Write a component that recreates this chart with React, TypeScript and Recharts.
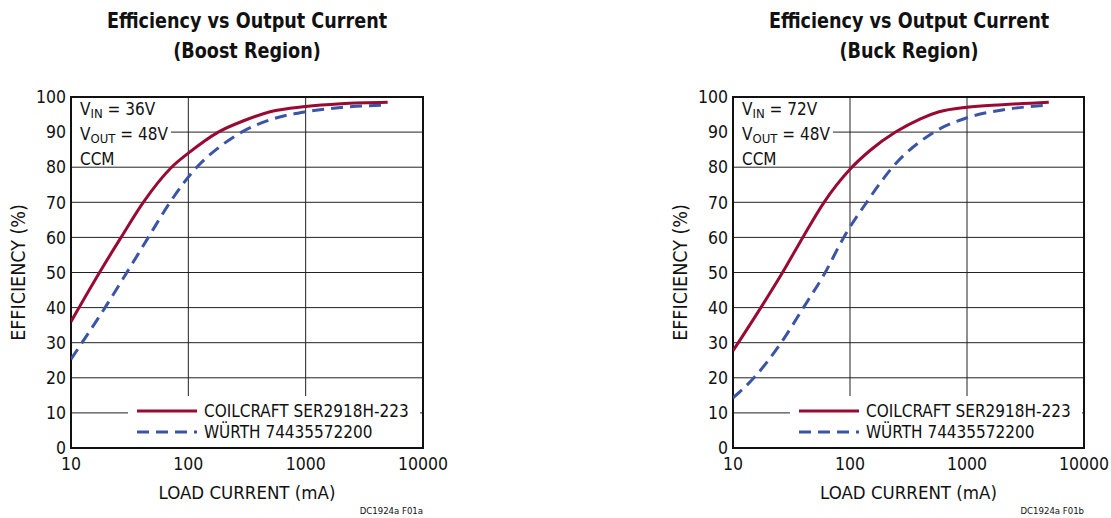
import * as React from 'react';
import {
  CartesianGrid,
  Label,
  Legend,
  Line,
  LineChart,
  ReferenceArea,
  XAxis,
  YAxis,
} from 'recharts';

// boost region (VIN = 36V)
const boostCoilcraftCurrent = [10, 17.5, 26.7, 41.3, 72, 100, 180, 300, 498, 1000, 2000, 5000];
const boostCoilcraftEff = [36, 50, 60, 70, 80, 84, 90, 93.3, 95.8, 97.3, 98.1, 98.5];
const boostWurthCurrent = [10, 19.5, 29.9, 45.6, 69.8, 118, 180, 285, 498, 1000, 2000, 5000];
const boostWurthEff = [25.3, 40, 50, 60, 70, 80, 85.5, 90, 93.5, 95.8, 97, 97.7];

// buck region (VIN = 72V)
const buckCoilcraftCurrent = [10, 17.3, 26.5, 39.5, 60, 100, 150, 245, 400, 578, 1000, 2000, 5000];
const buckCoilcraftEff = [27.7, 40, 50, 60, 70, 79.4, 84.9, 90, 93.8, 95.8, 97.1, 97.8, 98.5];
const buckWurthCurrent = [10, 15.1, 25.8, 40, 61.4, 88.4, 138.8, 231, 524, 1000, 2000, 5000];
const buckWurthEff = [14.3, 20, 30, 40, 50, 60, 70, 80, 90, 94.1, 96.3, 97.7];

const xTicks = [10, 100, 1000, 10000];
const yTicks = [0, 10, 20, 30, 40, 50, 60, 70, 80, 90, 100];
const seriesNames = ['COILCRAFT SER2918H-223', 'WÜRTH 74435572200'];

const RED = '#990a33';
const BLUE = '#3b54a6';
const FONT = "'Liberation Sans Narrow', 'DejaVu Sans Condensed', 'Roboto Condensed', Roboto, sans-serif";

const toPoints = (current: number[], eff: number[]) =>
  current.map((i, k) => ({ i, eff: eff[k] }));

function LegendBox() {
  const rows = [
    { name: seriesNames[0], color: RED, dash: undefined },
    { name: seriesNames[1], color: BLUE, dash: '12 7' },
  ];
  return (
    <div style={{ background: '#fff', width: 292, height: 51, position: 'relative' }}>
      {rows.map((r, k) => (
        <div
          key={r.name}
          style={{
            position: 'absolute',
            left: 9,
            top: 4 + k * 21,
            height: 21,
            display: 'flex',
            alignItems: 'center',
            whiteSpace: 'nowrap',
          }}
        >
          <svg width={60} height={6} style={{ marginRight: 7 }}>
            <line x1={0} y1={3} x2={60} y2={3} stroke={r.color} strokeWidth={3} strokeDasharray={r.dash} />
          </svg>
          <span style={{ fontSize: 17, fontFamily: FONT, color: '#111' }}>{r.name}</span>
        </div>
      ))}
    </div>
  );
}

type PanelProps = {
  left: number;
  rightMargin: number;
  title: string;
  vin: string;
  footer: string;
  coilcraft: { i: number; eff: number }[];
  wurth: { i: number; eff: number }[];
};

function EfficiencyPanel({ left, rightMargin, title, vin, footer, coilcraft, wurth }: PanelProps) {
  const width = 449;
  const plotRight = width - rightMargin;
  const plotCenter = (71 + plotRight) / 2;
  return (
    <div style={{ position: 'absolute', left, top: 0, width, height: 518 }}>
      <div
        style={{
          position: 'absolute',
          left: plotCenter - 200,
          width: 400,
          top: 6,
          textAlign: 'center',
          fontFamily: FONT,
          fontWeight: 'bold',
          fontSize: 22,
          lineHeight: '30px',
          color: '#111',
          transform: 'scaleX(0.89)',
          transformOrigin: 'center',
        }}
      >
        Efficiency vs Output Current
        <br />({title})
      </div>
      <LineChart
        width={width}
        height={518}
        margin={{ top: 97, right: rightMargin, bottom: 0, left: 0 }}
        style={{ fontFamily: FONT }}
      >
        <CartesianGrid
          stroke="#222"
          strokeWidth={1}
          horizontalValues={yTicks}
          verticalValues={[100, 1000]}
        />
        <XAxis
          type="number"
          dataKey="i"
          scale="log"
          domain={[10, 10000]}
          ticks={xTicks}
          allowDataOverflow
          height={70}
          tickLine={false}
          axisLine={false}
          tickSize={0}
          tickMargin={10}
          tick={{ fill: '#111', fontSize: 17.5 }}
        >
          <Label value="LOAD CURRENT (mA)" position="center" dy={9} fill="#111" fontSize={18.5} />
        </XAxis>
        <YAxis
          type="number"
          domain={[0, 100]}
          ticks={yTicks}
          width={71}
          tickLine={false}
          axisLine={false}
          tickSize={0}
          tickMargin={5}
          tick={{ fill: '#111', fontSize: 17.5 }}
        >
          <Label value="EFFICIENCY (%)" angle={-90} position="center" dx={-17} fill="#111" fontSize={19.5} />
        </YAxis>
        <Line
          data={coilcraft}
          dataKey="eff"
          name={seriesNames[0]}
          type="monotone"
          stroke={RED}
          strokeWidth={3}
          dot={false}
          isAnimationActive={false}
        />
        <Line
          data={wurth}
          dataKey="eff"
          name={seriesNames[1]}
          type="monotone"
          stroke={BLUE}
          strokeWidth={3}
          strokeDasharray="12 7"
          dot={false}
          isAnimationActive={false}
        />
        <ReferenceArea
          x1={10}
          x2={10000}
          y1={0}
          y2={100}
          fill="none"
          stroke="#111"
          strokeWidth={2}
          ifOverflow="visible"
        />
        <Legend
          layout="vertical"
          align="center"
          verticalAlign="middle"
          content={() => <LegendBox />}
          wrapperStyle={{ left: 128, top: 396, width: 292, height: 51 }}
        />
      </LineChart>
      <div
        style={{
          position: 'absolute',
          left: 72,
          top: 98,
          width: 99,
          height: 64,
          background: '#fff',
          fontFamily: FONT,
          fontSize: 17,
          lineHeight: '21px',
          color: '#111',
          paddingLeft: 8,
          boxSizing: 'border-box',
          paddingTop: 1,
          whiteSpace: 'nowrap',
        }}
      >
        <div>
          V<sub style={{ fontSize: 13, verticalAlign: '-3px' }}>IN</sub> = {vin}
        </div>
        <div>
          V<sub style={{ fontSize: 13, verticalAlign: '-3px' }}>OUT</sub> = 48V
        </div>
        <div>CCM</div>
      </div>
      <div
        style={{
          position: 'absolute',
          right: rightMargin,
          top: 505,
          fontFamily: FONT,
          fontSize: 9.5,
          color: '#111',
        }}
      >
        {footer}
      </div>
    </div>
  );
}

export default function App() {
  return (
    <div style={{ position: 'absolute', left: 0, top: 0, width: 1111, height: 518, background: '#fff' }}>
      <EfficiencyPanel
        left={0}
        rightMargin={26}
        title="Boost Region"
        vin="36V"
        footer="DC1924a F01a"
        coilcraft={toPoints(boostCoilcraftCurrent, boostCoilcraftEff)}
        wurth={toPoints(boostWurthCurrent, boostWurthEff)}
      />
      <EfficiencyPanel
        left={662}
        rightMargin={27}
        title="Buck Region"
        vin="72V"
        footer="DC1924a F01b"
        coilcraft={toPoints(buckCoilcraftCurrent, buckCoilcraftEff)}
        wurth={toPoints(buckWurthCurrent, buckWurthEff)}
      />
    </div>
  );
}
